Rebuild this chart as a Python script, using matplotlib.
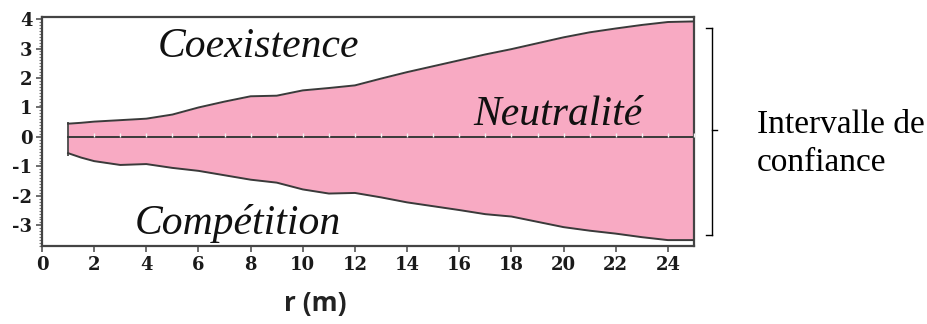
import matplotlib
matplotlib.use("Agg")
import matplotlib.pyplot as plt
from matplotlib.ticker import MultipleLocator
import numpy as np

# Data
r = [1.0, 1.5, 2, 3, 4, 5, 6, 7, 8, 9, 10, 11, 12, 13, 14, 15, 16, 17, 18, 19, 20, 21, 22, 23, 24, 25]
upper = [0.45, 0.48, 0.52, 0.57, 0.62, 0.76, 1.0, 1.2, 1.38, 1.4, 1.58, 1.66, 1.75, 1.98,
         2.2, 2.4, 2.6, 2.8, 2.98, 3.18, 3.38, 3.55, 3.68, 3.8, 3.9, 3.92]
lower = [-0.55, -0.7, -0.82, -0.95, -0.92, -1.05, -1.15, -1.3, -1.45, -1.55, -1.78, -1.92,
         -1.9, -2.05, -2.22, -2.35, -2.48, -2.62, -2.7, -2.88, -3.06, -3.18, -3.28, -3.4, -3.5, -3.5]
neutral = [0.0] * len(r)
x_ticks = [0, 2, 4, 6, 8, 10, 12, 14, 16, 18, 20, 22, 24]
y_ticks = [-3, -2, -1, 0, 1, 2, 3, 4]

fig = plt.figure(figsize=(9.28, 3.24), dpi=100)
ax = fig.add_axes([42/928, 78/324, (694-42)/928, (246-17)/324])

ax.fill_between(r, lower, upper, color='#F8AAC3', linewidth=0, zorder=1)
ax.plot(r, upper, color='#3a3a3a', lw=1.4, zorder=3)
ax.plot(r, lower, color='#3a3a3a', lw=1.4, zorder=3)
ax.plot(r, neutral, color='#3a3a3a', lw=1.4, zorder=3)
ax.plot(r[2:], [n + 0.06 for n in neutral[2:]], ls='none', marker='|', ms=3, mew=1.0,
        color='#f4f4f4', zorder=4)
ax.vlines(r[0], lower[0] - 0.1, upper[0] + 0.05, color='#3a3a3a', lw=1.2, zorder=4)

ax.set_xlim(0, 25)
ax.set_ylim(-3.7, 4.07)
ax.set_xticks(x_ticks)
ax.set_yticks(y_ticks)
ax.yaxis.set_minor_locator(MultipleLocator(0.1))
ax.tick_params(axis='both', which='major', direction='out', length=4, width=1.2, color='#555555', pad=3)
ax.tick_params(axis='y', which='minor', direction='out', length=2, width=0.8, color='#777777')

ax.set_yticklabels(['-3', '-2', '-1', '0', '1', '2', '3', '4'])
ax.set_xticklabels([str(t) for t in x_ticks])
for lab in ax.get_xticklabels() + ax.get_yticklabels():
    lab.set_fontfamily('DejaVu Serif')
    lab.set_fontweight('bold')
    lab.set_fontsize(13)
    lab.set_color('#1a1a1a')

for sp in ax.spines.values():
    sp.set_color('#444444')
    sp.set_linewidth(1.6)

ax.text(8.3, 3.05, 'Coexistence', fontsize=30, style='italic', family='Liberation Serif',
        ha='center', va='center', color='#111111', zorder=5)
ax.text(19.8, 0.75, 'Neutralité', fontsize=30, style='italic', family='Liberation Serif',
        ha='center', va='center', color='#111111', zorder=5)
ax.text(7.5, -2.95, 'Compétition', fontsize=30, style='italic', family='Liberation Serif',
        ha='center', va='center', color='#111111', zorder=5)

fig.text(315/928, 1 - 303/324, 'r (m)', fontsize=19, fontweight='bold', family='Open Sans',
         ha='center', va='center', color='#222222')

# Bracket for confidence interval
bx = 712/928
ytop = 1 - 28/324
ybot = 1 - 235/324
ymid = 1 - 130/324
fig.add_artist(plt.Line2D([bx, bx], [ybot, ytop], color='black', lw=1.0))
fig.add_artist(plt.Line2D([706/928, bx], [ytop, ytop], color='black', lw=1.0))
fig.add_artist(plt.Line2D([706/928, bx], [ybot, ybot], color='black', lw=1.0))
fig.add_artist(plt.Line2D([bx, 717/928], [ymid, ymid], color='black', lw=1.0))
fig.text(757/928, 1 - 125/324, 'Intervalle de', fontsize=24, family='Liberation Serif',
         ha='left', va='center', color='black')
fig.text(757/928, 1 - 163/324, 'confiance', fontsize=24, family='Liberation Serif',
         ha='left', va='center', color='black')

fig.savefig('out.png', dpi=100)
